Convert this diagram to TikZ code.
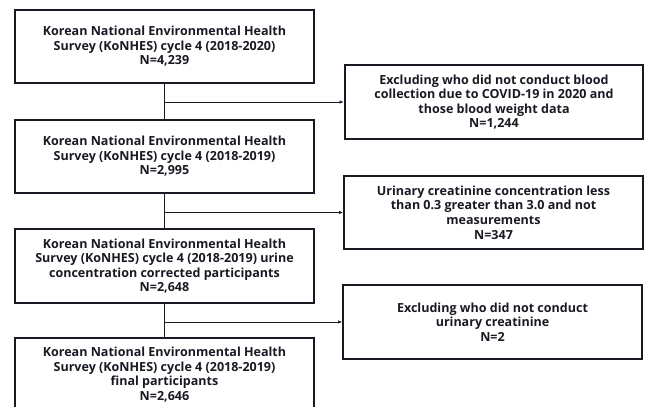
\documentclass[tikz,border=0pt]{standalone}
\usepackage{fontspec}
\setmainfont{Open Sans}
\usetikzlibrary{arrows.meta}
\definecolor{inkblack}{RGB}{25,25,35}

\begin{document}
\begin{tikzpicture}[x=0.75pt, y=-0.75pt,
    flowbox/.style={draw=inkblack, line width=1.5pt, inner sep=0pt, align=center,
      text=inkblack, font=\bfseries\fontsize{9.4}{10.9}\selectfont,
      minimum width=224pt, minimum height=55pt},
    link/.style={draw=inkblack, line width=0.7pt},
    outlink/.style={link, -{Latex[length=3pt, width=2.6pt]}}]
    % Frame and clipping
    \useasboundingbox (0,0) rectangle (651,407);
    \clip (0,0) rectangle (651,407);
    % Main column
    \node[flowbox] (cycA) at (164.5, 46.5) {Korean National Environmental Health\\Survey (KoNHES) cycle 4 (2018-2020)\\N=4,239};
    \node[flowbox] (cycB) at (164.5,156.5) {Korean National Environmental Health\\Survey (KoNHES) cycle 4 (2018-2019)\\N=2,995};
    \node[flowbox] (cycC) at (164.5,266.0) {Korean National Environmental Health\\Survey (KoNHES) cycle 4 (2018-2019) urine\\concentration corrected participants\\N=2,648};
    \node[flowbox] (cycD) at (164.5,374.5) {Korean National Environmental Health\\Survey (KoNHES) cycle 4 (2018-2019)\\final participants\\N=2,646};
    % Exclusion column
    \node[flowbox] (exA) at (494.0,102.0) {Excluding who did not conduct blood\\collection due to COVID-19 in 2020 and\\those blood weight data\\N=1,244};
    \node[flowbox] (exB) at (493.5,212.5) {Urinary creatinine concentration less\\than 0.3 greater than 3.0 and not\\measurements\\N=347};
    \node[flowbox] (exC) at (492.5,322.0) {Excluding who did not conduct\\urinary creatinine\\N=2};
    % Connectors
    \draw[link] (cycA.south) -- (cycB.north);
    \draw[link] (cycB.south) -- (cycC.north);
    \draw[link] (cycC.south) -- (cycD.north);
    \draw[outlink] (cycA.south |- exA.west) -- (exA.west);
    \draw[outlink] (cycB.south |- exB.west) -- (exB.west);
    \draw[outlink] (cycC.south |- exC.west) -- (exC.west);
\end{tikzpicture}
\end{document}
